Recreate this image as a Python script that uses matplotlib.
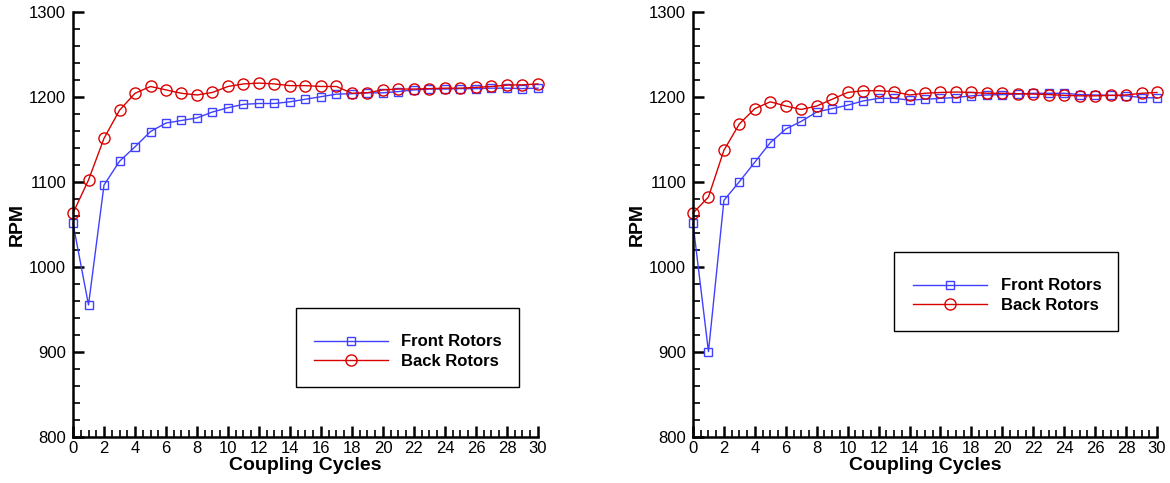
import matplotlib
matplotlib.use("Agg")
import matplotlib.pyplot as plt
from matplotlib.patches import Rectangle
from matplotlib.ticker import MultipleLocator

plt.rcParams['font.family'] = ['Liberation Sans', 'DejaVu Sans']

cycles = list(range(31))

front_case1 = [1051, 955, 1096, 1124, 1141, 1159, 1169, 1172, 1175, 1182,
               1187, 1191, 1192, 1192, 1194, 1197, 1200, 1203, 1203.5, 1204.5,
               1204.5, 1206, 1208, 1209, 1209, 1209.5, 1209.5, 1210, 1210, 1209.5,
               1210]
back_case1 = [1063, 1102, 1151, 1184, 1204, 1212, 1208, 1204, 1202, 1205,
              1212, 1215, 1216, 1215, 1213, 1213, 1212, 1212, 1204, 1204.7,
              1208, 1209, 1209, 1209.5, 1210, 1210, 1211, 1212, 1213.6, 1214,
              1215]

front_case2 = [1051, 900, 1078, 1100, 1123, 1146, 1162, 1171, 1182, 1186,
               1190, 1195, 1198, 1198, 1196, 1197, 1198, 1199, 1201, 1202,
               1202.5, 1203, 1204, 1204, 1204, 1202.5, 1202, 1201.6, 1201, 1199,
               1198.5]
back_case2 = [1063, 1082, 1137, 1168, 1186, 1194, 1189, 1185, 1189, 1197,
              1205, 1207, 1207, 1206, 1202, 1204, 1205, 1205.5, 1205, 1204,
              1204, 1203.5, 1203, 1202.5, 1201.6, 1201, 1201, 1201.5, 1202, 1204,
              1205]

series_labels = ["Front Rotors", "Back Rotors"]
x_label = "Coupling Cycles"
y_label = "RPM"

blue = (0.25, 0.25, 1.0)
red = (0.85, 0.0, 0.0)

fig = plt.figure(figsize=(11.7, 4.83), dpi=100)
ax1 = fig.add_axes([0.0624, 0.0959, 0.3974, 0.8799])
ax2 = fig.add_axes([0.5923, 0.0959, 0.3966, 0.8799])


def draw(ax, front, back, frame_box, legend_anchor):
    ax.plot(cycles, front, color=blue, lw=1.0, marker='s', ms=5.5,
            mfc='none', mec=blue, mew=1.0, label=series_labels[0], clip_on=False)
    ax.plot(cycles, back, color=red, lw=1.0, marker='o', ms=8,
            mfc='none', mec=red, mew=1.0, label=series_labels[1], clip_on=False)
    ax.set_xlim(0, 30)
    ax.set_ylim(800, 1300)
    ax.xaxis.set_major_locator(MultipleLocator(2))
    ax.xaxis.set_minor_locator(MultipleLocator(0.5))
    ax.yaxis.set_major_locator(MultipleLocator(100))
    ax.yaxis.set_minor_locator(MultipleLocator(20))
    for s in ('top', 'right'):
        ax.spines[s].set_visible(False)
    for s in ('left', 'bottom'):
        ax.spines[s].set_linewidth(1.8)
    ax.tick_params(which='major', direction='in', length=8, width=1.8,
                   labelsize=12, pad=3)
    ax.tick_params(which='minor', direction='in', length=5, width=1.2)
    ax.tick_params(axis='y', which='major', pad=5)
    ax.set_xlabel(x_label, fontsize=14, fontweight='bold', labelpad=1)
    ax.set_ylabel(y_label, fontsize=14, fontweight='bold', labelpad=2)

    # legend frame drawn separately so the entries can sit low inside it
    ax.add_patch(Rectangle(frame_box[:2], frame_box[2], frame_box[3],
                           transform=ax.transAxes, facecolor='white',
                           edgecolor='black', lw=1.0, zorder=4))
    leg = ax.legend(loc='center left', bbox_to_anchor=legend_anchor,
                    prop={'size': 12, 'weight': 'bold'}, frameon=False,
                    handlelength=4.45, handletextpad=0.8, labelspacing=0.28,
                    borderpad=0, borderaxespad=0)
    leg.set_zorder(5)


draw(ax1, front_case1, back_case1,
     (0.479, 0.1176, 0.480, 0.1845), (0.518, 0.200))
draw(ax2, front_case2, back_case2,
     (0.4338, 0.2494, 0.4815, 0.1845), (0.4748, 0.3318))

fig.savefig("out.png", dpi=100)
